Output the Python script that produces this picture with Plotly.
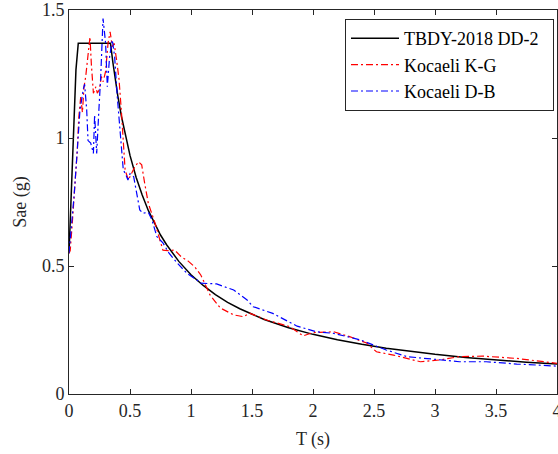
import plotly.graph_objects as go

# TBDY-2018 DD-2 design spectrum
T_tbdy = [0.0, 0.057, 0.076, 0.34, 0.36, 0.38, 0.40, 0.43, 0.46, 0.50, 0.55, 0.60, 0.65, 0.70,
          0.75, 0.80, 0.90, 1.00, 1.10, 1.20, 1.30, 1.40, 1.50, 1.60, 1.80, 2.00, 2.20, 2.40,
          2.60, 2.80, 3.00, 3.25, 3.50, 3.75, 4.00]
S_tbdy = [0.55, 1.266, 1.37, 1.37, 1.294, 1.226, 1.165, 1.084, 1.013, 0.932, 0.847, 0.777, 0.717,
          0.666, 0.621, 0.583, 0.518, 0.466, 0.424, 0.388, 0.358, 0.333, 0.311, 0.291, 0.259,
          0.233, 0.212, 0.194, 0.179, 0.166, 0.155, 0.143, 0.133, 0.124, 0.117]

# Kocaeli K-G
T_kg = [0.0, 0.01, 0.027, 0.055, 0.068, 0.08, 0.096, 0.11, 0.123, 0.137, 0.15, 0.172, 0.183, 0.20,
        0.22, 0.232, 0.25, 0.265, 0.28, 0.30, 0.32, 0.337, 0.355, 0.37, 0.39, 0.41, 0.43, 0.447,
        0.46, 0.487, 0.514, 0.54, 0.57, 0.596, 0.62, 0.65, 0.677, 0.705, 0.746, 0.77, 0.81, 0.866,
        0.92, 0.975, 1.03, 1.08, 1.156, 1.24, 1.35, 1.43, 1.48, 1.62, 1.81, 1.92, 2.0, 2.17, 2.30,
        2.44, 2.52, 2.66, 2.88, 3.04, 3.2, 3.39, 3.67, 3.94, 4.0]
S_kg = [0.55, 0.56, 0.667, 0.85, 0.953, 1.08, 1.16, 1.10, 1.20, 1.24, 1.29, 1.395, 1.29, 1.175,
        1.20, 1.175, 1.19, 1.24, 1.22, 1.26, 1.37, 1.415, 1.357, 1.37, 1.305, 1.23, 1.10, 0.953,
        0.875, 0.836, 0.86, 0.888, 0.907, 0.895, 0.824, 0.745, 0.707, 0.668, 0.60, 0.562, 0.56,
        0.562, 0.536, 0.52, 0.497, 0.465, 0.387, 0.336, 0.309, 0.302, 0.316, 0.289, 0.263, 0.227,
        0.24, 0.243, 0.224, 0.199, 0.165, 0.152, 0.126, 0.133, 0.146, 0.148, 0.139, 0.122, 0.12]

# Kocaeli D-B
T_db = [0.0, 0.041, 0.068, 0.09, 0.117, 0.128, 0.145, 0.156, 0.178, 0.20, 0.21, 0.227, 0.245, 0.26,
        0.279, 0.30, 0.314, 0.333, 0.355, 0.374, 0.396, 0.41, 0.43, 0.445, 0.463, 0.483, 0.50,
        0.53, 0.55, 0.58, 0.606, 0.65, 0.68, 0.72, 0.77, 0.82, 0.89, 0.97, 1.05, 1.074, 1.21,
        1.35, 1.46, 1.51, 1.67, 1.87, 2.03, 2.17, 2.39, 2.6, 2.77, 2.99, 3.2, 3.42, 3.67, 4.0]
S_db = [0.55, 0.77, 0.953, 1.11, 1.19, 1.21, 1.11, 0.99, 0.98, 0.94, 1.09, 0.94, 1.11, 1.24,
        1.467, 1.37, 1.20, 1.318, 1.383, 1.318, 1.16, 1.07, 0.953, 0.875, 0.86, 0.836, 0.86,
        0.849, 0.797, 0.719, 0.706, 0.71, 0.68, 0.615, 0.59, 0.55, 0.51, 0.47, 0.445, 0.433,
        0.43, 0.406, 0.367, 0.341, 0.315, 0.265, 0.243, 0.237, 0.211, 0.172, 0.146, 0.135,
        0.126, 0.126, 0.117, 0.109]

x_ticks = [0, 0.5, 1, 1.5, 2, 2.5, 3, 3.5, 4]
x_labels = ["0", "0.5", "1", "1.5", "2", "2.5", "3", "3.5", "4"]
y_ticks = [0, 0.5, 1, 1.5]
y_labels = ["0", "0.5", "1", "1.5"]

series_names = ["TBDY-2018 DD-2", "Kocaeli K-G", "Kocaeli D-B"]

AX = "#262626"
FONT = "Liberation Serif, Times New Roman, serif"
PAD = "\u00a0\u00a0"

fig = go.Figure()
fig.add_trace(go.Scatter(x=T_tbdy, y=S_tbdy, mode="lines", name=series_names[0] + PAD,
                         line=dict(color="black", width=1.5)))
fig.add_trace(go.Scatter(x=T_kg, y=S_kg, mode="lines", name=series_names[1] + PAD,
                         line=dict(color="#ff0000", width=1.2, dash="7px,3px,2px,3px")))
fig.add_trace(go.Scatter(x=T_db, y=S_db, mode="lines", name=series_names[2] + PAD,
                         line=dict(color="#0000ff", width=1.2, dash="7px,3px,2px,3px")))

fig.update_layout(
    width=558, height=454,
    margin=dict(l=69, r=1, t=10, b=60),
    paper_bgcolor="white", plot_bgcolor="white",
    font=dict(family=FONT, size=18, color=AX),
    showlegend=True,
    legend=dict(x=(554 - 69) / 488, xanchor="right", y=(394 - 19) / 384, yanchor="top",
                bgcolor="white", bordercolor=AX, borderwidth=1,
                font=dict(family=FONT, size=18, color="black"),
                itemwidth=48, tracegroupgap=0),
)
fig.update_xaxes(range=[0, 4], tickvals=x_ticks, ticktext=x_labels,
                 showgrid=False, zeroline=False, showline=True, linecolor=AX, linewidth=1,
                 mirror="allticks", ticks="inside", ticklen=5, tickwidth=1, tickcolor=AX,
                 automargin=False, ticklabeloverflow="allow",
                 title=dict(text="T (s)", standoff=12, font=dict(family=FONT, size=18, color=AX)))
fig.update_yaxes(range=[0, 1.5], tickvals=y_ticks, ticktext=y_labels,
                 showgrid=False, zeroline=False, showline=True, linecolor=AX, linewidth=1,
                 mirror="allticks", ticks="inside", ticklen=5, tickwidth=1, tickcolor=AX,
                 automargin=False,
                 title=dict(text="Sae (g)", standoff=10, font=dict(family=FONT, size=18, color=AX)))

fig.write_html("out.html", config={"displayModeBar": False},
               post_script="document.body.style.margin='0';")
